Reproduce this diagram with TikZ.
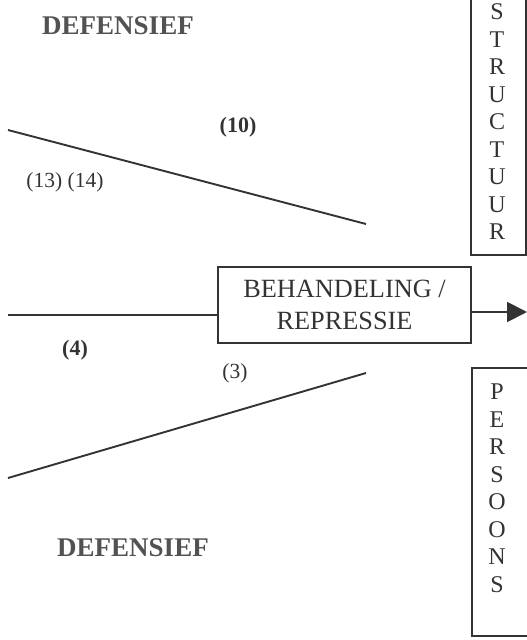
\documentclass[tikz,border=0pt]{standalone}
\usepackage{fontspec}
\setmainfont{Liberation Serif}
\usetikzlibrary{arrows.meta}
\definecolor{ink}{HTML}{333333}
\begin{document}
\begin{tikzpicture}[x=1pt,y=-1pt,
  ln/.style={draw=ink,line width=1.9pt},
  bx/.style={draw=ink,line width=1.4pt},
  big/.style={font=\fontsize{26.3}{32}\selectfont,text=ink},
  lab/.style={font=\fontsize{21.5}{25}\selectfont,text=ink},
  blab/.style={font=\fontsize{22}{25}\selectfont\bfseries,text=ink},
  head/.style={font=\fontsize{27}{30}\selectfont\bfseries,text=ink!85},
  vert/.style={font=\fontsize{24}{27.5}\selectfont,text=ink,align=center,inner sep=0pt}]
\useasboundingbox (0,0) rectangle (527,640);
% boxes on the right
\draw[bx] (471,-5) -- (471,255) -- (530,255);
\draw[bx] (526,-5) -- (526,255);
\draw[bx] (530,368) -- (472,368) -- (472,636) -- (530,636);
\node[vert] (struct) at (497,122) {S\\T\\R\\U\\C\\T\\U\\U\\R};
\node[vert] (pers) at (497,488.5) {P\\E\\R\\S\\O\\O\\N\\S};
% central box
\node[bx,big,minimum width=253pt,minimum height=76pt,inner sep=0pt,align=center] (box) at (344.5,305) {BEHANDELING /\\REPRESSIE};
\coordinate (out) at (527,312);
\draw[ln,-{Triangle[length=20pt,width=20pt]}] (box.east |- out) -- (out);
% lines
\coordinate (t1) at (8,130);
\coordinate (t2) at (366,224);
\draw[ln] (t1) -- (t2);
\coordinate (m1) at (8,315);
\draw[ln] (m1) -- (box.west |- m1);
\coordinate (b1) at (366,373);
\coordinate (b2) at (8,478);
\draw[ln] (b1) -- (b2);
% labels
\node[head] (def1) at (118,26) {DEFENSIEF};
\node[head] (def2) at (133,548) {DEFENSIEF};
\node[blab] (l10) at (238,127) {(10)};
\node[lab] (l1314) at (65,182) {(13) (14)};
\node[blab] (l4) at (75,350) {(4)};
\node[lab] (l3) at (235,373) {(3)};
\end{tikzpicture}
\end{document}
